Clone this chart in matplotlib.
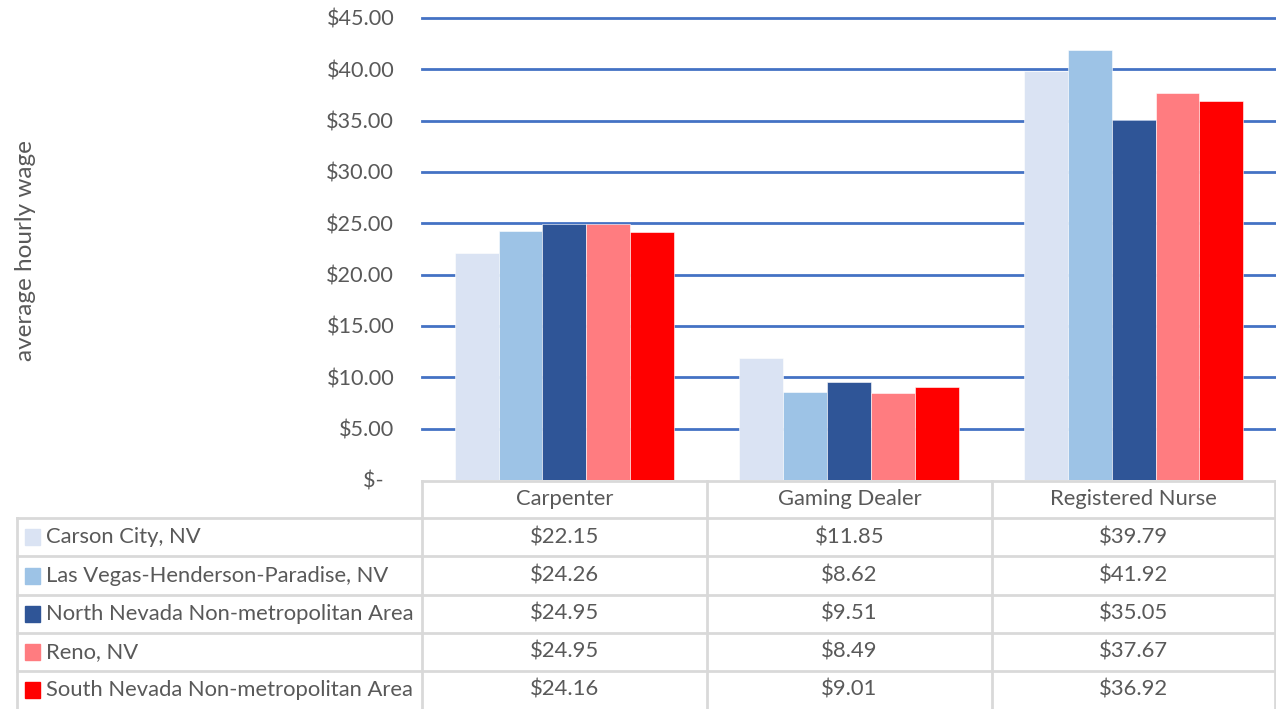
import numpy as np
import matplotlib.pyplot as plt
from matplotlib.lines import Line2D

plt.rcParams['font.family'] = ['Lato', 'DejaVu Sans']

# data
jobs = ["Carpenter", "Gaming Dealer", "Registered Nurse"]
areas = ["Carson City, NV", "Las Vegas-Henderson-Paradise, NV",
         "North Nevada Non-metropolitan Area", "Reno, NV",
         "South Nevada Non-metropolitan Area"]
carson = [22.15, 11.85, 39.79]
las_vegas = [24.26, 8.62, 41.92]
north_nv = [24.95, 9.51, 35.05]
reno = [24.95, 8.49, 37.67]
south_nv = [24.16, 9.01, 36.92]
series = [carson, las_vegas, north_nv, reno, south_nv]
colors = ["#DAE3F3", "#9DC3E6", "#2F5597", "#FF7C80", "#FF0000"]

yticks = [0, 5, 10, 15, 20, 25, 30, 35, 40, 45]
ylabels = ["$-  "] + ["$%.2f" % v for v in yticks[1:]]

W, H = 1276, 709
fig = plt.figure(figsize=(W / 100, H / 100), dpi=100)
txt = "#595959"
gridc = "#D9D9D9"
fs = 15.8

# chart area
ax = fig.add_axes([422 / W, (H - 480) / H, (1276 - 422) / W, (480 - 18) / H])
x = np.arange(len(jobs))
bw = 0.154
for i, vals in enumerate(series):
    ax.bar(x + (i - 2) * bw, vals, bw, color=colors[i], zorder=3,
           edgecolor="white", linewidth=0.4)
ax.set_xlim(-0.5, 2.5)
ax.set_ylim(0, 45)
ax.set_yticks(yticks)
ax.set_yticklabels(ylabels, color=txt, fontsize=15.6)
ax.tick_params(axis='y', length=0, pad=20)
ax.set_xticks([])
for s in ax.spines.values():
    s.set_visible(False)
for v in yticks[1:]:
    ax.axhline(v, color="#4472C4", lw=2, zorder=1, clip_on=False)

fig.text(25 / W, 1 - 251 / H, "average hourly wage", rotation=90,
         ha='center', va='center', color=txt, fontsize=17.5)

# data table below the chart (pixel coords overlay)
tb = fig.add_axes([0, 0, 1, 1])
tb.set_xlim(0, W)
tb.set_ylim(H, 0)
tb.axis('off')
col_x = [422, 707, 992, 1275]
row_y = [518, 556, 595, 633, 671, 709]
tb.add_line(Line2D([422, 1275], [481, 481], color=gridc, lw=2))
for yy in row_y[:-1]:
    tb.add_line(Line2D([17, 1275], [yy, yy], color=gridc, lw=2))
tb.add_line(Line2D([17, 17], [518, 709], color=gridc, lw=2))
for xx in col_x:
    tb.add_line(Line2D([xx, xx], [481, 709], color=gridc, lw=2))

for j, job in enumerate(jobs):
    cx = (col_x[j] + col_x[j + 1]) / 2
    tb.text(cx, 499, job, ha='center', va='center', color=txt, fontsize=fs)
for i, name in enumerate(areas):
    cy = (row_y[i] + row_y[i + 1]) / 2
    tb.add_patch(plt.Rectangle((25, cy - 8), 15, 16, color=colors[i]))
    tb.text(46, cy, name, ha='left', va='center', color=txt, fontsize=fs)
    for j in range(len(jobs)):
        cx = (col_x[j] + col_x[j + 1]) / 2
        tb.text(cx, cy, "$%.2f" % series[i][j], ha='center', va='center',
                color=txt, fontsize=fs)

fig.savefig("out.png", dpi=100)
